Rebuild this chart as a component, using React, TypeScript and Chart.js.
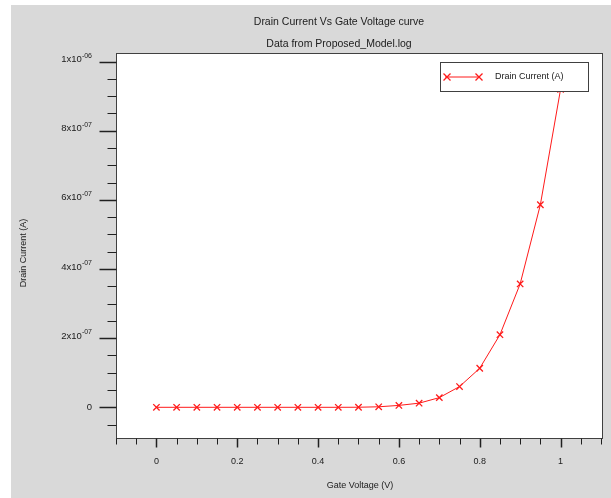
import React, { useEffect, useRef } from "react";
import { Chart, registerables } from "chart.js";

Chart.register(...registerables);

const chartTitle = "Drain Current Vs Gate Voltage curve";
const chartSubtitle = "Data from Proposed_Model.log";
const xAxisTitle = "Gate Voltage (V)";
const yAxisTitle = "Drain Current (A)";
const seriesLabel = "Drain Current (A)";

const gateVoltage = [
  0, 0.05, 0.1, 0.15, 0.2, 0.25, 0.3, 0.35, 0.4, 0.45, 0.5,
  0.55, 0.6, 0.65, 0.7, 0.75, 0.8, 0.85, 0.9, 0.95, 1.0,
];
const drainCurrent = [
  0, 0, 0, 0, 0, 0, 0, 0, 0, 0, 2e-10,
  1.5e-9, 5.5e-9, 1.2e-8, 2.8e-8, 6.0e-8, 1.13e-7, 2.1e-7, 3.57e-7, 5.86e-7, 9.2e-7,
];

const xMajorTicks = [0, 0.2, 0.4, 0.6, 0.8, 1];
const xTickLabels = ["0", "0.2", "0.4", "0.6", "0.8", "1"];
const xMinorStep = 0.05;

const yMajorTicks = [0, 2e-7, 4e-7, 6e-7, 8e-7, 1e-6];
const yTickMantissas = ["0", "2x10", "4x10", "6x10", "8x10", "1x10"];
const yTickExponents = ["", "-07", "-07", "-07", "-07", "-06"];
const yMinorStep = 5e-8;

const X_MIN = -0.1;
const X_MAX = 1.105;
const Y_MIN = -0.0888e-6;
const Y_MAX = 1.025e-6;

const FONT = "'Liberation Sans', Arial, sans-serif";
const RED = "#ff1a1a";
const FRAME = "#404040";
const TEXT = "#202020";

function drawCross(ctx: CanvasRenderingContext2D, x: number, y: number, r: number) {
  ctx.beginPath();
  ctx.moveTo(x - r, y - r);
  ctx.lineTo(x + r, y + r);
  ctx.moveTo(x - r, y + r);
  ctx.lineTo(x + r, y - r);
  ctx.stroke();
}

const decorPlugin = {
  id: "decor",
  beforeDraw(chart: any) {
    const { ctx, chartArea } = chart;
    const { left, top, right, bottom } = chartArea;
    ctx.save();
    ctx.fillStyle = "#ffffff";
    ctx.fillRect(0, 0, chart.width, chart.height);
    ctx.fillStyle = "#d9d9d9";
    ctx.fillRect(11, 5, chart.width - 11, chart.height - 5);
    ctx.fillStyle = "#ffffff";
    ctx.fillRect(left, top, right - left, bottom - top);
    ctx.restore();
  },
  afterDraw(chart: any) {
    const { ctx, chartArea, scales } = chart;
    const { left, top, right, bottom } = chartArea;
    const xs = scales.x;
    const ys = scales.y;
    ctx.save();

    // frame
    ctx.strokeStyle = FRAME;
    ctx.lineWidth = 1;
    ctx.strokeRect(Math.round(left) + 0.5, Math.round(top) + 0.5, Math.round(right - left) - 1, Math.round(bottom - top));

    // y ticks
    ctx.strokeStyle = "#202020";
    const ax = Math.round(left) + 0.5;
    const start = Math.ceil(Y_MIN / yMinorStep);
    const end = Math.floor(Y_MAX / yMinorStep);
    for (let k = start; k <= end; k++) {
      const v = k * yMinorStep;
      const py = Math.round(ys.getPixelForValue(v)) + 0.5;
      const major = yMajorTicks.some((m) => Math.abs(m - v) < 1e-12);
      ctx.lineWidth = major ? 1.5 : 1;
      ctx.beginPath();
      ctx.moveTo(ax - (major ? 17 : 9), py);
      ctx.lineTo(ax, py);
      ctx.stroke();
    }
    // x ticks
    const ay = Math.round(bottom) + 0.5;
    const xs0 = Math.ceil(X_MIN / xMinorStep - 1e-9);
    const xs1 = Math.floor(X_MAX / xMinorStep + 1e-9);
    for (let k = xs0; k <= xs1; k++) {
      const v = k * xMinorStep;
      const px = Math.round(xs.getPixelForValue(v)) + 0.5;
      const major = xMajorTicks.some((m) => Math.abs(m - v) < 1e-9);
      ctx.lineWidth = major ? 1.5 : 1;
      ctx.beginPath();
      ctx.moveTo(px, ay);
      ctx.lineTo(px, ay + (major ? 9 : 6));
      ctx.stroke();
    }

    // y tick labels
    ctx.fillStyle = TEXT;
    const labelRight = 92;
    yMajorTicks.forEach((v, i) => {
      const py = ys.getPixelForValue(v);
      const exp = yTickExponents[i];
      if (!exp) {
        ctx.font = `9.5px ${FONT}`;
        ctx.textAlign = "right";
        ctx.textBaseline = "middle";
        ctx.fillText(yTickMantissas[i], labelRight, py);
      } else {
        ctx.font = `7px ${FONT}`;
        const ew = ctx.measureText(exp).width;
        ctx.textAlign = "left";
        ctx.textBaseline = "alphabetic";
        ctx.fillText(exp, labelRight - ew, py - 4);
        ctx.font = `9.5px ${FONT}`;
        ctx.textAlign = "right";
        ctx.fillText(yTickMantissas[i], labelRight - ew, py + 0.5);
      }
    });

    // x tick labels
    ctx.font = `9px ${FONT}`;
    ctx.textAlign = "center";
    ctx.textBaseline = "middle";
    xMajorTicks.forEach((v, i) => {
      ctx.fillText(xTickLabels[i], xs.getPixelForValue(v), 462);
    });

    // axis titles
    ctx.font = `9px ${FONT}`;
    ctx.fillText(xAxisTitle, 360, 486);
    ctx.save();
    ctx.translate(24, 253);
    ctx.rotate(-Math.PI / 2);
    ctx.fillText(yAxisTitle, 0, 0);
    ctx.restore();

    // titles
    ctx.font = `10.5px ${FONT}`;
    ctx.fillText(chartTitle, 339, 22);
    ctx.fillText(chartSubtitle, 339, 44);

    // legend
    const lx = 440, ly = 62, lw = 148, lh = 29;
    ctx.fillStyle = "#ffffff";
    ctx.fillRect(lx, ly, lw, lh);
    ctx.strokeStyle = FRAME;
    ctx.lineWidth = 1;
    ctx.strokeRect(lx + 0.5, ly + 0.5, lw, lh);
    const sy = 77;
    ctx.strokeStyle = RED;
    ctx.beginPath();
    ctx.moveTo(445, sy);
    ctx.lineTo(480, sy);
    ctx.stroke();
    ctx.lineWidth = 1.3;
    drawCross(ctx, 447, sy, 3.5);
    drawCross(ctx, 479, sy, 3.5);
    ctx.fillStyle = TEXT;
    ctx.font = `9px ${FONT}`;
    ctx.textAlign = "left";
    ctx.textBaseline = "middle";
    ctx.fillText(chart.data.datasets[0].label, 495, sy);

    ctx.restore();
  },
};

export default function App() {
  const canvasRef = useRef<HTMLCanvasElement | null>(null);

  useEffect(() => {
    document.body.style.margin = "0";
    const canvas = canvasRef.current;
    if (!canvas) return;
    const chart = new Chart(canvas, {
      type: "scatter",
      data: {
        datasets: [
          {
            label: seriesLabel,
            data: gateVoltage.map((x, i) => ({ x, y: drainCurrent[i] })),
            showLine: true,
            borderColor: RED,
            borderWidth: 1,
            pointStyle: "crossRot",
            pointRadius: 4.5,
            pointHoverRadius: 4.5,
            pointBorderColor: RED,
            pointBorderWidth: 1.3,
            backgroundColor: RED,
            fill: false,
            tension: 0,
          },
        ],
      },
      options: {
        responsive: false,
        animation: false,
        devicePixelRatio: 1,
        layout: { padding: { left: 116, top: 53, right: 8, bottom: 60 } },
        plugins: {
          legend: { display: false },
          title: { display: false },
          tooltip: { enabled: false },
        },
        scales: {
          x: { type: "linear", min: X_MIN, max: X_MAX, display: false },
          y: { type: "linear", min: Y_MIN, max: Y_MAX, display: false },
        },
      },
      plugins: [decorPlugin],
    } as any);
    return () => chart.destroy();
  }, []);

  return (
    <canvas
      ref={canvasRef}
      width={611}
      height={498}
      style={{ display: "block", width: 611, height: 498 }}
    />
  );
}
